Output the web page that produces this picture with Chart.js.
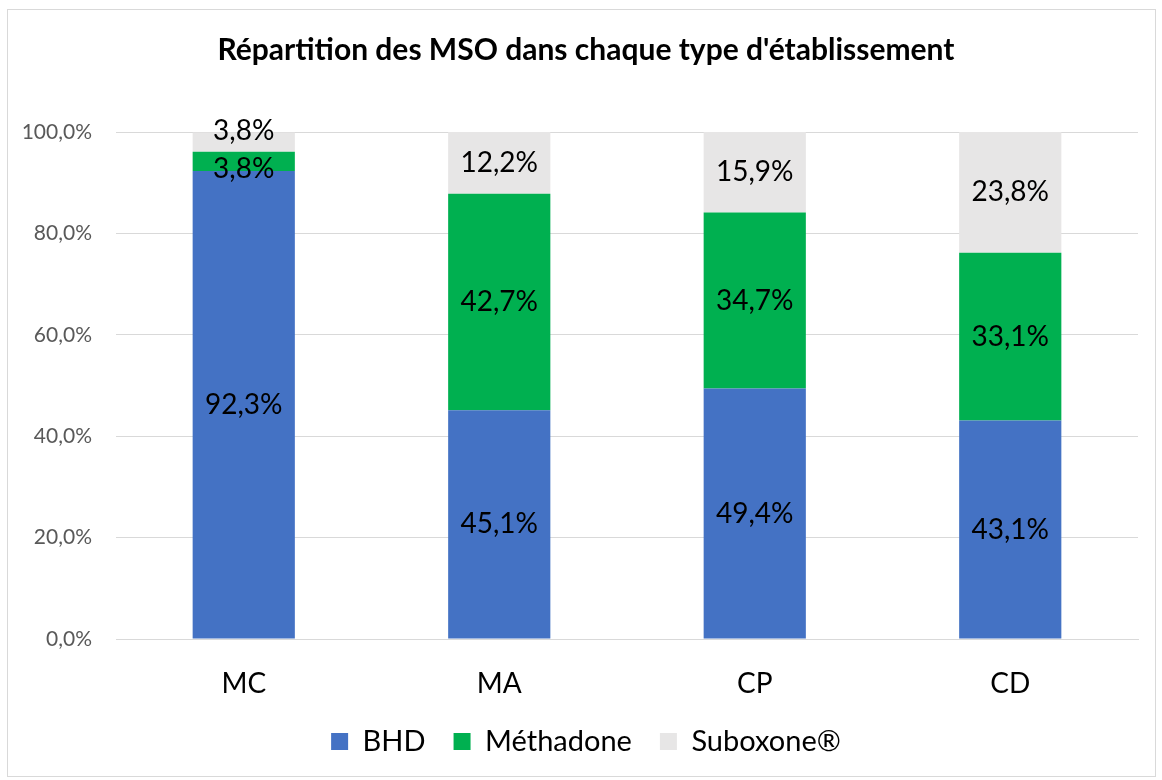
<!DOCTYPE html>
<html>
<head>
<meta charset="utf-8">
<script src="https://cdn.jsdelivr.net/npm/chart.js@4.4.0/dist/chart.umd.min.js"></script>
<style>
  html, body { margin: 0; padding: 0; background: #fff; }
  #box { position: absolute; left: 7px; top: 9px; width: 1147px; height: 766px; border: 1px solid #d9d9d9; }
  #cv { display: block; }
</style>
</head>
<body>
<div id="box"><canvas id="cv" width="1147" height="766"></canvas></div>
<script>
// Données du graphique
const categories = ["MC", "MA", "CP", "CD"];
const bhd = [92.3, 45.1, 49.4, 43.1];
const methadone = [3.8, 42.7, 34.7, 33.1];
const suboxone = [3.8, 12.2, 15.9, 23.8];
const seriesNames = ["BHD", "Méthadone", "Suboxone®"];
const yTicks = [0, 20, 40, 60, 80, 100];

const FONT = "Lato, 'Liberation Sans', sans-serif";

function fmt(v) {
    return v.toFixed(1).replace(".", ",") + "%";
}

// Étiquettes de données centrées dans chaque segment
const labelsPlugin = {
    id: "segLabels",
    afterDatasetsDraw(chart) {
        const ctx = chart.ctx;
        ctx.save();
        ctx.font = "28px " + FONT;
        ctx.fillStyle = "#000";
        ctx.textAlign = "center";
        ctx.textBaseline = "middle";
        chart.data.datasets.forEach((ds, i) => {
            chart.getDatasetMeta(i).data.forEach((bar, j) => {
                const p = bar.getProps(["x", "y", "base"], true);
                let y = (p.y + p.base) / 2;
                // petits segments de MC : étiquettes décalées comme dans Excel
                if (i === 1 && j === 0) y += 8;
                if (i === 2 && j === 0) y -= 11;
                ctx.fillText(fmt(ds.data[j]), p.x, y);
            });
        });
        ctx.restore();
    }
};

const cfg = {
    type: "bar",
    data: {
        labels: categories,
        datasets: [
            { label: seriesNames[0], data: bhd, backgroundColor: "#4472c4" },
            { label: seriesNames[1], data: methadone, backgroundColor: "#00b050" },
            { label: seriesNames[2], data: suboxone, backgroundColor: "#e7e6e6" }
        ]
    },
    options: {
        responsive: false,
        animation: false,
        layout: { padding: { top: 22, right: 17, left: 26, bottom: 10 } },
        datasets: { bar: { categoryPercentage: 1, barPercentage: 0.4 } },
        plugins: {
            title: {
                display: true,
                text: "Répartition des MSO dans chaque type d'établissement",
                color: "#000",
                font: { family: FONT, size: 30, weight: "bold" },
                padding: { top: 0, bottom: 64 }
            },
            legend: {
                position: "bottom",
                labels: {
                    color: "#000",
                    font: { family: FONT, size: 29 },
                    boxWidth: 17,
                    boxHeight: 17,
                    padding: 28
                }
            },
            tooltip: { enabled: false }
        },
        scales: {
            x: {
                stacked: true,
                grid: { display: false },
                border: { color: "#d9d9d9", width: 1 },
                ticks: { color: "#000", font: { family: FONT, size: 28 }, padding: 20 },
                afterFit(scale) { scale.height = 60; }
            },
            y: {
                stacked: true,
                min: 0,
                max: 100,
                afterBuildTicks(scale) { scale.ticks = yTicks.map(v => ({ value: v })); },
                grid: { color: "#d9d9d9", drawTicks: false },
                border: { display: false },
                ticks: {
                    color: "#595959",
                    font: { family: FONT, size: 21 },
                    padding: 24,
                    callback: v => fmt(v)
                },
                afterFit(scale) { scale.width = 82; },
                // ne pas couper "100,0%" qui déborde dans la marge
                afterUpdate(scale) { scale._computeLabelArea = () => undefined; }
            }
        }
    },
    plugins: [labelsPlugin]
};

new Chart(document.getElementById("cv"), cfg);
</script>
</body>
</html>
